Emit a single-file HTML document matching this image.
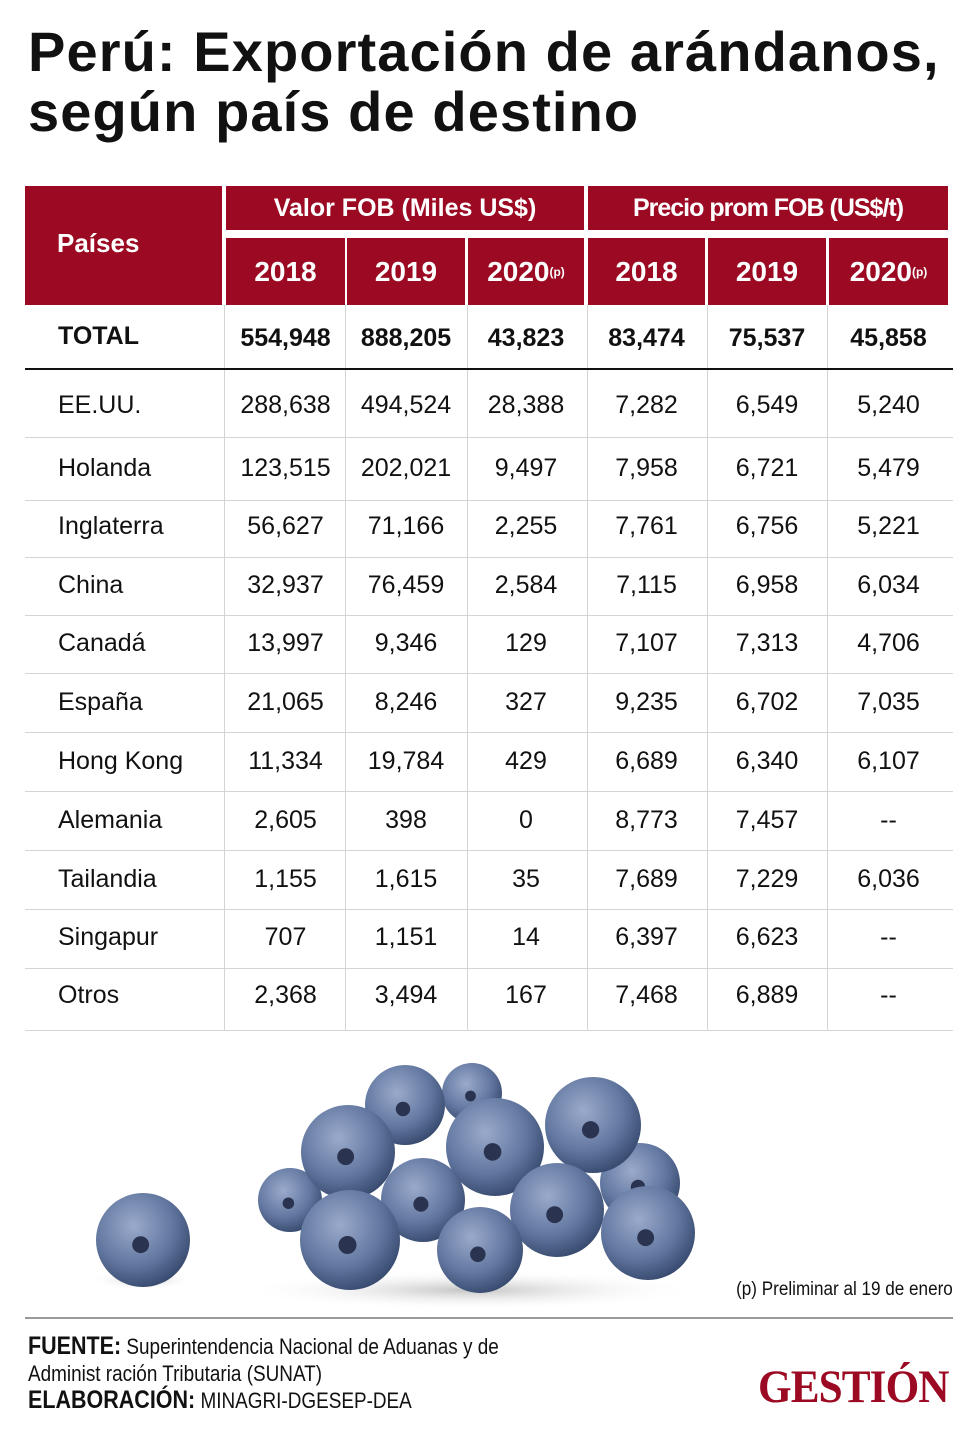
<!DOCTYPE html>
<html><head><meta charset="utf-8">
<style>
body{margin:0;width:980px;height:1453px;background:#fff;position:relative;overflow:hidden;font-family:"Liberation Sans",sans-serif;color:#111}
.a{position:absolute}
h1{position:absolute;left:28px;top:22px;margin:0;font-size:56px;line-height:60px;font-weight:bold;letter-spacing:1.1px;white-space:nowrap}
.red{position:absolute;background:#9b0a22;color:#fff;font-weight:bold;display:flex;align-items:center;justify-content:center}
.cell{position:absolute;font-size:25px;text-align:center;height:30px;line-height:30px}
.vl{position:absolute;width:1px;background:#d4d4d4;top:305px;height:725px}
.hl{position:absolute;left:25px;width:928px;height:1px;background:#d4d4d4}
sup{font-size:12px}
</style></head><body>
<h1>Perú: Exportación de arándanos,<br>según país de destino</h1>

<div class="red" style="left:25px;top:186px;width:197px;height:119px;justify-content:flex-start;padding-left:32px;box-sizing:border-box;font-size:26px;padding-bottom:4px">Países</div>
<div class="red" style="left:226px;top:186px;width:358px;height:44px;font-size:25px">Valor FOB (Miles US$)</div>
<div class="red" style="left:588px;top:186px;width:360px;height:44px;font-size:25px;letter-spacing:-1px">Precio prom FOB (US$/t)</div>
<div id="years"></div>

<div id="grid"></div>
<div class="a" style="left:25px;top:368px;width:928px;height:2px;background:#111"></div>
<div id="rows"></div>

<svg class="a" style="left:0;top:1040px" width="980" height="280">
<defs>
<radialGradient id="bb" cx="0.4" cy="0.35" r="0.7"><stop offset="0" stop-color="#9aaacb"/><stop offset="0.6" stop-color="#6277a0"/><stop offset="1" stop-color="#34466a"/></radialGradient>
<radialGradient id="sh" cx="0.5" cy="0.5" r="0.5"><stop offset="0" stop-color="#888" stop-opacity="0.5"/><stop offset="1" stop-color="#fff" stop-opacity="0"/></radialGradient>
</defs>
<ellipse cx="470" cy="250" rx="230" ry="20" fill="url(#sh)"/>
<ellipse cx="143" cy="240" rx="50" ry="10" fill="url(#sh)"/>
<g id="berries"></g>
</svg>

<div class="a" style="right:27px;top:1279px;font-size:19px;transform:scaleX(0.9);transform-origin:right top">(p) Preliminar al 19 de enero</div>
<div class="a" style="left:25px;top:1317px;width:928px;height:2px;background:#999"></div>
<div class="a" style="left:28px;top:1333px;font-size:22px;line-height:27px;transform:scaleX(0.86);transform-origin:left top;white-space:nowrap"><b style="font-size:25px">FUENTE:</b> Superintendencia Nacional de Aduanas y de<br>Administ ración Tributaria (SUNAT)<br><b style="font-size:25px">ELABORACIÓN:</b> MINAGRI-DGESEP-DEA</div>
<div class="a" style="left:758px;top:1360px;font-family:'Liberation Serif',serif;font-weight:bold;font-size:47px;color:#9b0a22;letter-spacing:-1px;transform:scaleX(0.92);transform-origin:left top">GESTIÓN</div>

<script>
const colX=[226,347,468,588,708,829];
const colW=[119,118,116,117,118,119];
const years=["2018","2019","2020","2018","2019","2020"];
const countries=["EE.UU.","Holanda","Inglaterra","China","Canadá","España","Hong Kong","Alemania","Tailandia","Singapur","Otros"];
const v2018=["288,638","123,515","56,627","32,937","13,997","21,065","11,334","2,605","1,155","707","2,368"];
const v2019=["494,524","202,021","71,166","76,459","9,346","8,246","19,784","398","1,615","1,151","3,494"];
const v2020=["28,388","9,497","2,255","2,584","129","327","429","0","35","14","167"];
const p2018=["7,282","7,958","7,761","7,115","7,107","9,235","6,689","8,773","7,689","6,397","7,468"];
const p2019=["6,549","6,721","6,756","6,958","7,313","6,702","6,340","7,457","7,229","6,623","6,889"];
const p2020=["5,240","5,479","5,221","6,034","4,706","7,035","6,107","--","6,036","--","--"];
const totals=["554,948","888,205","43,823","83,474","75,537","45,858"];
const rowY=[405,468,526,585,643,702,761,820,879,937,995];
const sepY=[437,500,557,615,673,732,791,850,909,968,1030];

const yc=document.getElementById('years');
years.forEach((y,i)=>{
 const d=document.createElement('div');d.className='red';
 d.style.cssText=`left:${colX[i]}px;top:238px;width:${colW[i]}px;height:67px;font-size:28px`;
 d.innerHTML=y+(i===2||i===5?'<sup>(p)</sup>':'');
 
 
 yc.appendChild(d);
});
const g=document.getElementById('grid');
[224,345,467,587,707,827].forEach(x=>{
 const d=document.createElement('div');d.className='vl';d.style.left=x+'px';
 
 
 g.appendChild(d);
});
sepY.forEach(y=>{
 const d=document.createElement('div');d.className='hl';d.style.top=y+'px';
 
 
 g.appendChild(d);
});
const r=document.getElementById('rows');
function cell(txt,x,w,y,bold,left,name){
 const d=document.createElement('div');d.className='cell';
 d.style.left=x+'px';d.style.width=w+'px';d.style.top=(y-15)+'px';
 if(bold)d.style.fontWeight='bold';
 if(left)d.style.textAlign='left';
 d.textContent=txt;
 
 
 r.appendChild(d);
}
cell("TOTAL",58,160,336,true,true,'total-label');
totals.forEach((t,i)=>cell(t,colX[i],colW[i],338,true,false,'total-value'));
const cols=[v2018,v2019,v2020,p2018,p2019,p2020];
countries.forEach((c,j)=>{
 cell(c,58,160,rowY[j],false,true,'country-label');
 cols.forEach((arr,i)=>cell(arr[j],colX[i],colW[i],rowY[j],false,false,'row-value'));
});
const berries=[[143,200,47],[472,53,30],[405,65,40],[290,160,32],[348,112,47],[423,160,42],[640,143,40],[593,85,48],[495,107,49],[557,170,47],[648,193,47],[350,200,50],[480,210,43]];
const bg=document.getElementById('berries');
berries.forEach(b=>{
 const c=document.createElementNS('http://www.w3.org/2000/svg','circle');
 c.setAttribute('cx',b[0]);c.setAttribute('cy',b[1]);c.setAttribute('r',b[2]);
 c.setAttribute('fill','url(#bb)');
 
 
 bg.appendChild(c);
 const s=document.createElementNS('http://www.w3.org/2000/svg','circle');
 s.setAttribute('cx',b[0]-b[2]*0.05);s.setAttribute('cy',b[1]+b[2]*0.1);s.setAttribute('r',b[2]*0.18);
 s.setAttribute('fill','#2a3350');
 
 
 bg.appendChild(s);
});
</script>
</body></html>
